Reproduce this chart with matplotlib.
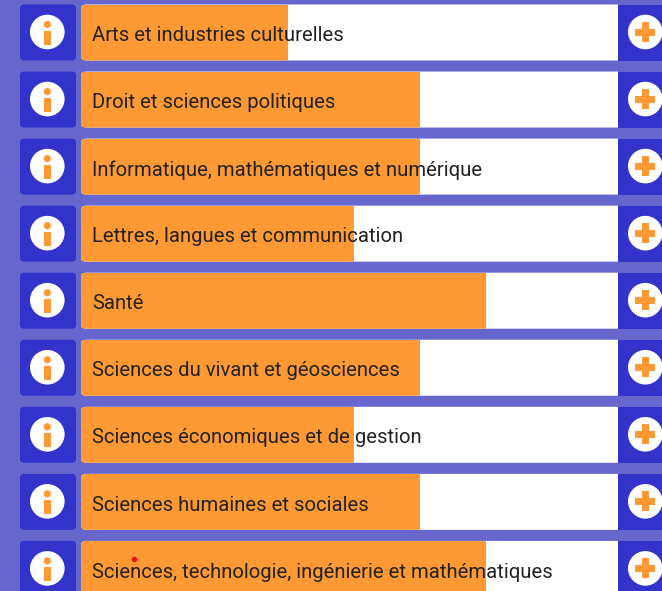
import matplotlib.pyplot as plt
from matplotlib.patches import Circle, FancyBboxPatch, Rectangle

categories = ["Arts et industries culturelles", "Droit et sciences politiques",
              "Informatique, mathématiques et numérique", "Lettres, langues et communication",
              "Santé", "Sciences du vivant et géosciences",
              "Sciences économiques et de gestion", "Sciences humaines et sociales",
              "Sciences, technologie, ingénierie et mathématiques"]
values = [38.5, 63.1, 63.1, 50.8, 75.4, 63.1, 50.8, 63.1, 75.4]

W, H = 662, 591
row_top = [4.5 + 67.05 * i for i in range(len(categories))]
row_h = 56

fig = plt.figure(figsize=(W / 100, H / 100), dpi=100, facecolor="#6666cc")

# fond en pixels pour les boutons
bg = fig.add_axes([0, 0, 1, 1])
bg.set_xlim(0, W)
bg.set_ylim(H, 0)
bg.axis("off")

for top in row_top:
    cy = top + row_h / 2
    # bouton info
    bg.add_patch(FancyBboxPatch((20, top), 56, row_h, boxstyle="round,pad=0,rounding_size=4",
                                fc="#3333cc", ec="none"))
    bg.add_patch(Circle((47.3, cy - 0.5), 17.3, fc="white", ec="none"))
    bg.add_patch(Circle((47.3, cy - 8), 3.6, fc="#ff9933", ec="none"))
    bg.add_patch(Rectangle((44, cy - 2), 6.7, 14, fc="#ff9933", ec="none"))
    # bouton plus
    bg.add_patch(Rectangle((618, top), 44, row_h, fc="#3333cc", ec="none"))
    bg.add_patch(Circle((645.3, cy - 0.5), 17.3, fc="white", ec="none"))
    bg.add_patch(Rectangle((635.3, cy - 4), 20, 7, fc="#ff9933", ec="none"))
    bg.add_patch(Rectangle((641.8, cy - 10.5), 7, 20, fc="#ff9933", ec="none"))

# barres, 0-100 % sur la largeur de la piste
ax = fig.add_axes([81 / W, 0, 537 / W, 1])
ax.set_xlim(0, 100)
ax.set_ylim(H, 0)
ax.axis("off")
ax.patch.set_alpha(0)

for top, val, cat in zip(row_top, values, categories):
    track = FancyBboxPatch((0, top), 102, row_h, boxstyle="round,pad=0,rounding_size=1",
                           mutation_aspect=4, fc="white", ec="none", clip_on=True)
    ax.add_patch(track)
    bars = ax.barh(top + row_h / 2, val, height=row_h, color="#ff9933", zorder=2)
    bars[0].set_clip_path(track)
    ax.text(2.05, top + row_h / 2 + 3.2, cat, va="center", ha="left", color="#222222",
            fontsize=14.6, family="Roboto", zorder=3)

# point rouge
bg2 = fig.add_axes([0, 0, 1, 1])
bg2.set_xlim(0, W)
bg2.set_ylim(H, 0)
bg2.axis("off")
bg2.patch.set_alpha(0)
bg2.add_patch(Circle((134.5, 559.5), 2.8, fc="#ee1111", ec="none"))

fig.savefig("out.png", dpi=100, facecolor=fig.get_facecolor())
